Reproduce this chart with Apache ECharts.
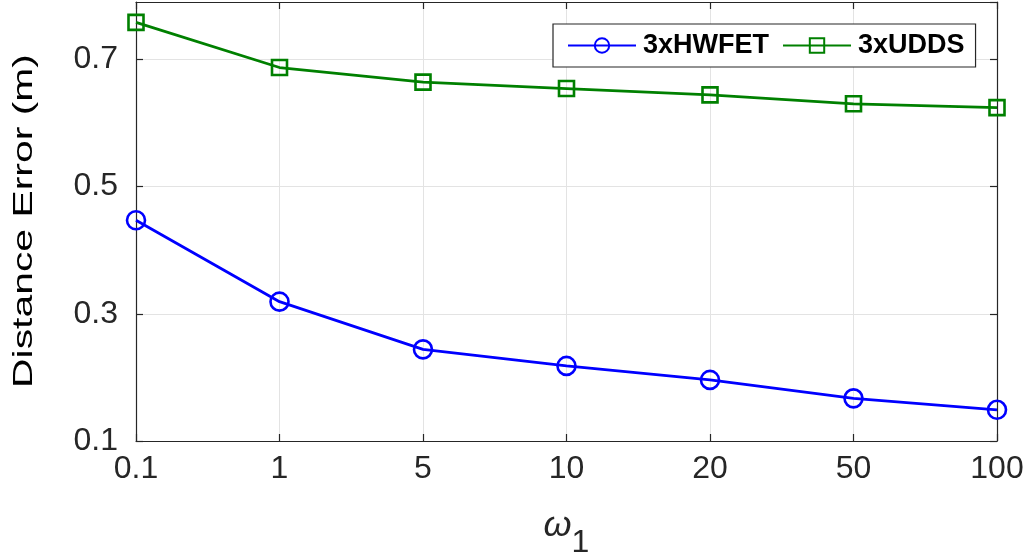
<!DOCTYPE html>
<html><head><meta charset="utf-8">
<script src="https://cdn.jsdelivr.net/npm/echarts@6/dist/echarts.min.js"></script>
<style>html,body{margin:0;padding:0;background:#fff;overflow:hidden}#c{width:1029px;height:557px}</style>
</head><body><div id="c"></div>
<script>
const categories = ['0.1','1','5','10','20','50','100'];
const hwfet = [0.447, 0.319, 0.244, 0.218, 0.196, 0.167, 0.149];
const udds  = [0.758, 0.687, 0.664, 0.654, 0.644, 0.630, 0.624];
const yTicks = [0.1, 0.3, 0.5, 0.7];

const FONT = 'Liberation Sans, Arial, sans-serif';
const axisColor = '#262626';
const chart = echarts.init(document.getElementById('c'));
const common = {
  axisLine:{show:true,lineStyle:{color:axisColor,width:1.2}},
  axisTick:{show:true,inside:true,length:7,lineStyle:{color:axisColor,width:1.2}},
};
chart.setOption({
  backgroundColor:'#fff',
  animation:false,
  grid:{left:136,right:32,top:2,bottom:116,containLabel:false,outerBoundsMode:'none'},
  legend:{
    left:553, top:24,
    padding:[8,11,8,14], itemGap:13, itemWidth:68, itemHeight:18,
    borderColor:axisColor, borderWidth:1.2, backgroundColor:'#fff',
    textStyle:{fontFamily:FONT,fontWeight:'bold',fontSize:27,color:'#000',padding:[0,0,0,2]},
    data:['3xHWFET','3xUDDS']
  },
  graphic:[{
    type:'text', x:24, y:221, rotation:Math.PI/2, scaleX:1.46,
    style:{text:'Distance Error (m)', fontFamily:FONT, fontSize:28, fill:'#000',
      align:'center', verticalAlign:'middle'}
  }],
  xAxis:[{
    type:'category', data:categories, boundaryGap:false,
    ...common,
    axisLabel:{fontFamily:FONT,fontSize:32,color:axisColor,margin:12},
    splitLine:{show:true,lineStyle:{color:'#e3e3e3',width:1}},
    name:'{w|ω}{s|1}', nameLocation:'middle', nameGap:52,
    nameTextStyle:{rich:{
      w:{fontFamily:FONT,fontStyle:'italic',fontSize:36,color:axisColor},
      s:{fontFamily:FONT,fontSize:32,color:axisColor,padding:[34,0,0,0]}
    }}
  },{
    type:'category', data:categories, boundaryGap:false, position:'top',
    ...common, axisLabel:{show:false}, splitLine:{show:false}
  }],
  yAxis:[{
    type:'value', min:0.1, max:0.79, interval:0.2,
    ...common,
    axisLabel:{fontFamily:FONT,fontSize:32,color:axisColor,margin:18,showMaxLabel:false,
      formatter:v=>yTicks.includes(Math.round(v*10)/10)?v.toFixed(1):''},
    splitLine:{show:true,lineStyle:{color:'#e3e3e3',width:1}}
  },{
    type:'value', min:0.1, max:0.79, interval:0.2, position:'right',
    ...common, axisLabel:{show:false}, splitLine:{show:false}
  }],
  series:[{
    name:'3xHWFET', type:'line', data:hwfet, color:'#0000ff',
    symbol:'circle', symbolSize:18,
    lineStyle:{color:'#0000ff',width:2.8},
    itemStyle:{color:'rgba(255,255,255,0)',borderColor:'#0000ff',borderWidth:2.6},
    z:3
  },{
    name:'3xUDDS', type:'line', data:udds, color:'#008000',
    symbol:'rect', symbolSize:15,
    lineStyle:{color:'#008000',width:2.8},
    itemStyle:{color:'rgba(255,255,255,0)',borderColor:'#008000',borderWidth:2.6},
    z:3
  }]
});
</script></body></html>
